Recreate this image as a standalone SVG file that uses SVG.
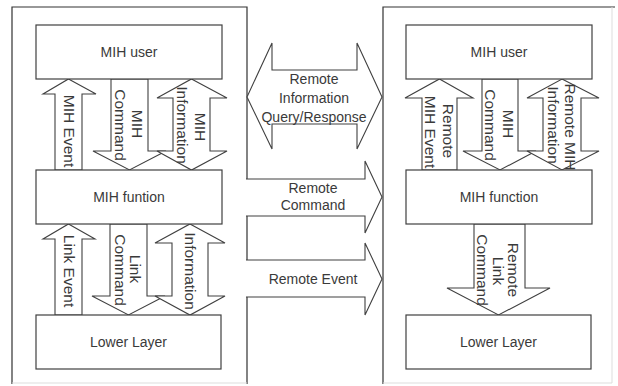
<svg xmlns="http://www.w3.org/2000/svg" width="618" height="386" viewBox="0 0 618 386">
  <style>
    .frame { fill: #ffffff; stroke: #333333; stroke-width: 1.2; }
    .frame-soft { fill: none; stroke: #dddddd; stroke-width: 1; }
    .box { fill: #ffffff; stroke: #404040; stroke-width: 1.2; }
    .arrow { fill: #ffffff; stroke: #404040; stroke-width: 1.1; stroke-linejoin: miter; }
    .label { font-family: "Liberation Sans", Arial, sans-serif; font-size: 14px; fill: #3a3a3a; text-anchor: middle; }
    .vlabel { font-family: "Liberation Sans", Arial, sans-serif; font-size: 15.5px; fill: #3a3a3a; text-anchor: middle; dominant-baseline: central; }
  </style>
  <rect width="618" height="386" fill="#ffffff"/>

  <!-- station frames -->
  <g id="frame-left">
    <path class="frame" d="M12,384 L12,7 L247,7 L247,384"/>
    <line class="frame-soft" x1="12" y1="383" x2="247" y2="383"/>
  </g>
  <g id="frame-right">
    <path class="frame" d="M383,384 L383,7 L615,7"/>
    <path class="frame-soft" d="M612,7 L612,383 L383,383"/>
  </g>

  <!-- connectors -->
  <g id="connectors">
    <!-- left stack, upper -->
    <polygon class="arrow" points="68.5,79 96,94 82,94 82,170 55,170 55,94 43,94"/>
    <polygon class="arrow" points="111,79 148,79 148,151 166,151 129.5,170 93,151 111,151"/>
    <polygon class="arrow" points="191.5,79 227,98 210,98 210,151 227,151 191.5,170 157,151 173,151 173,98 157,98"/>
    <!-- left stack, lower -->
    <polygon class="arrow" points="68.5,224 95,239 82,239 82,315 55,315 55,239 43,239"/>
    <polygon class="arrow" points="110,224 147,224 147,296 165,296 128.5,315 92,296 110,296"/>
    <polygon class="arrow" points="190,224 225,243 208,243 208,296 225,296 190,315 155,296 172,296 172,243 155,243"/>
    <!-- right stack, upper -->
    <polygon class="arrow" points="439.5,79 473,98 457,98 457,170 422,170 422,98 405,98"/>
    <polygon class="arrow" points="482,79 518,79 518,151 536,151 500,170 463,151 482,151"/>
    <polygon class="arrow" points="562,79 599,98 581,98 581,151 599,151 562,170 527,151 543,151 543,98 527,98"/>
    <!-- right stack, lower -->
    <polygon class="arrow" points="474,224 525,224 525,288 550,288 498.5,315 447,288 474,288"/>
    <!-- between stations -->
    <polygon class="arrow" points="247,97 272,43 272,70 357,70 357,43 382,97 357,149 357,124 272,124 272,149"/>
    <path class="arrow" d="M246,179 L365,179 L365,161 L382,197 L365,233 L365,216 L246,216"/>
    <path class="arrow" d="M246,260 L365,260 L365,243 L382,279 L365,315 L365,297 L246,297"/>
  </g>

  <!-- left station nodes -->
  <g id="left-mih-user">
    <rect class="box" x="36" y="25" width="186" height="54"/>
    <text class="label" x="129" y="57">MIH user</text>
  </g>
  <g id="left-mih-function">
    <rect class="box" x="36" y="170" width="186" height="54"/>
    <text class="label" x="129" y="202">MIH funtion</text>
  </g>
  <g id="left-lower-layer">
    <rect class="box" x="36" y="315" width="185" height="54"/>
    <text class="label" x="128.5" y="347">Lower Layer</text>
  </g>

  <!-- right station nodes -->
  <g id="right-mih-user">
    <rect class="box" x="406" y="25" width="186" height="54"/>
    <text class="label" x="499" y="57">MIH user</text>
  </g>
  <g id="right-mih-function">
    <rect class="box" x="406" y="170" width="186" height="54"/>
    <text class="label" x="499" y="202">MIH function</text>
  </g>
  <g id="right-lower-layer">
    <rect class="box" x="406" y="315" width="185" height="54"/>
    <text class="label" x="498.5" y="347">Lower Layer</text>
  </g>

  <!-- connector labels -->
  <g id="connector-labels">
    <text class="vlabel" transform="translate(69,131) rotate(90)">MIH Event</text>
    <text class="vlabel" transform="translate(137,124) rotate(90)">MIH</text>
    <text class="vlabel" transform="translate(120,125) rotate(90)">Command</text>
    <text class="vlabel" transform="translate(200,127) rotate(90)">MIH</text>
    <text class="vlabel" transform="translate(182,125) rotate(90)">Information</text>

    <text class="vlabel" transform="translate(69,271) rotate(90)">Link Event</text>
    <text class="vlabel" transform="translate(135,269) rotate(90)">Link</text>
    <text class="vlabel" transform="translate(120,270) rotate(90)">Command</text>
    <text class="vlabel" transform="translate(190,271) rotate(90)">Information</text>

    <text class="vlabel" transform="translate(448,131) rotate(90)">Remote</text>
    <text class="vlabel" transform="translate(430,132) rotate(90)">MIH Event</text>
    <text class="vlabel" transform="translate(508,124) rotate(90)">MIH</text>
    <text class="vlabel" transform="translate(490,125) rotate(90)">Command</text>
    <text class="vlabel" transform="translate(570,127) rotate(90)">Remote MIH</text>
    <text class="vlabel" transform="translate(553,125) rotate(90)">Information</text>

    <text class="vlabel" transform="translate(513,270) rotate(90)">Remote</text>
    <text class="vlabel" transform="translate(498,271) rotate(90)">Link</text>
    <text class="vlabel" transform="translate(482,270) rotate(90)">Command</text>

    <text class="label" x="314" y="84">Remote</text>
    <text class="label" x="314" y="103">Information</text>
    <text class="label" x="314" y="122">Query/Response</text>
    <text class="label" x="313" y="193">Remote</text>
    <text class="label" x="313" y="210">Command</text>
    <text class="label" x="313" y="284">Remote Event</text>
  </g>
</svg>
